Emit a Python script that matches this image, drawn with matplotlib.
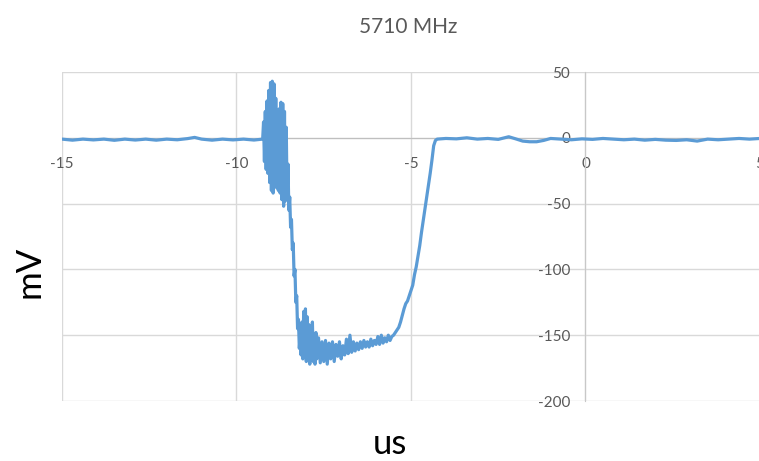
import numpy as np
import matplotlib
matplotlib.use("Agg")
import matplotlib.pyplot as plt

plt.rcParams['font.family'] = ['Lato', 'DejaVu Sans']
plt.rcParams['axes.unicode_minus'] = False

# trace, in segments (time in us, level in mV)
t_pre = [-15.0, -14.7, -14.4, -14.1, -13.8, -13.5, -13.2, -12.9, -12.6, -12.3,
         -12.0, -11.7, -11.4, -11.2, -11.0, -10.7, -10.4, -10.1, -9.8, -9.5, -9.25]
v_pre = [-1.0, -1.8, -1.0, -1.6, -1.0, -1.9, -1.0, -1.7, -1.0, -1.8,
         -1.0, -1.5, -0.6, 0.3, -1.0, -1.8, -1.0, -1.6, -1.0, -1.7, -1.0]

t_burst = [-9.225, -9.2, -9.175, -9.15, -9.125, -9.1, -9.075, -9.05, -9.025, -9.0,
           -8.975, -8.95, -8.925, -8.9, -8.875, -8.85, -8.825, -8.8, -8.775, -8.75,
           -8.725, -8.7, -8.675, -8.65, -8.625, -8.6, -8.575, -8.55, -8.525]
v_burst = [12, -18, 20, -24, 28, -27, 36, -34, 42, -40,
           43, -42, 41, -35, 30, -38, 17, -40, 22, -42,
           27, -47, 26, -52, 20, -48, 8, -45, -20]

t_fall = [-8.5, -8.475, -8.45, -8.425, -8.4, -8.375, -8.35, -8.325, -8.3, -8.275,
          -8.25, -8.225, -8.2]
v_fall = [-55, -45, -68, -62, -85, -80, -105, -100, -125, -120,
          -145, -138, -160]

t_low = [-8.175, -8.15, -8.125, -8.1, -8.075, -8.05, -8.025, -8.0, -7.975, -7.95,
         -7.925, -7.9, -7.875, -7.85, -7.825, -7.8, -7.775, -7.75, -7.725, -7.7,
         -7.65, -7.6, -7.55, -7.5, -7.45, -7.4, -7.35, -7.3, -7.25, -7.2,
         -7.15, -7.1, -7.05, -7.0, -6.95, -6.9, -6.85, -6.8, -6.75, -6.7,
         -6.65, -6.6, -6.55, -6.5, -6.45, -6.4, -6.35, -6.3, -6.25, -6.2,
         -6.15, -6.1, -6.05, -6.0, -5.95, -5.9, -5.85, -5.8, -5.75, -5.7,
         -5.65, -5.6, -5.55, -5.5]
v_low = [-150, -165, -140, -168, -132, -165, -130, -170, -136, -168,
         -142, -172, -148, -166, -140, -170, -150, -172, -148, -168,
         -152, -171, -155, -170, -154, -172, -156, -168, -155, -170,
         -157, -166, -155, -168, -158, -165, -153, -164, -150, -163,
         -155, -162, -156, -161, -155, -160, -154, -159, -155, -159,
         -153, -158, -154, -157, -151, -157, -150, -156, -152, -155,
         -150, -154, -151, -150]

t_rise = [-5.45, -5.4, -5.35, -5.3, -5.25, -5.2, -5.15, -5.1, -5.05, -5.0,
          -4.95, -4.9, -4.85, -4.8, -4.75, -4.7, -4.65, -4.6, -4.55, -4.5,
          -4.45, -4.4, -4.35, -4.3]
v_rise = [-148, -146, -144, -140, -135, -130, -126, -124, -120, -116,
          -112, -104, -98, -90, -82, -72, -63, -54, -45, -36,
          -27, -17, -6, -2]

t_post = [-4.25, -4.0, -3.7, -3.4, -3.1, -2.8, -2.5, -2.2, -2.0, -1.8,
          -1.6, -1.4, -1.2, -1.0, -0.7, -0.4, -0.1, 0.2, 0.5, 0.8,
          1.1, 1.4, 1.7, 2.0, 2.3, 2.6, 2.9, 3.2, 3.5, 3.8,
          4.1, 4.4, 4.7, 5.0]
v_post = [-1.0, -0.5, -0.8, 0.0, -1.0, -0.5, -1.2, 0.8, -0.8, -2.5,
          -3.0, -3.0, -2.0, -0.5, -1.0, -1.5, -0.8, -1.2, -0.5, -1.0,
          -1.5, -1.0, -1.8, -1.2, -1.8, -2.0, -1.5, -2.5, -1.0, -1.5,
          -1.0, -0.5, -1.0, -0.5]

x_ticks = [-15, -10, -5, 0, 5]
y_ticks = [50, 0, -50, -100, -150, -200]

t_us = np.concatenate([t_pre, t_burst, t_fall, t_low, t_rise, t_post])
v_mv = np.concatenate([v_pre, v_burst, v_fall, v_low, v_rise, v_post])

fig = plt.figure(figsize=(7.59, 4.61), dpi=100)
ax = fig.add_axes([62 / 759, 1 - 401 / 461, 698 / 759, 329 / 461])

ax.plot(t_us, v_mv, color="#5b9bd5", lw=2.3, zorder=3)

ax.set_xlim(-15, 5)
ax.set_ylim(-200, 50)
ax.set_xticks(x_ticks)
ax.set_yticks(y_ticks)
ax.grid(True, color="#d9d9d9", lw=1.0, zorder=0)

# Excel style: axes cross at the origin
ax.spines['left'].set_position(('data', 0))
ax.spines['bottom'].set_position(('data', 0))
ax.spines['top'].set_visible(False)
ax.spines['right'].set_visible(False)
ax.spines['left'].set_color("#c8c8c8")
ax.spines['bottom'].set_color("#bfbfbf")
ax.tick_params(axis='both', length=0, colors="#595959", labelsize=11)
ax.tick_params(axis='x', pad=14)
ax.tick_params(axis='y', pad=11)
for lab in ax.get_xticklabels() + ax.get_yticklabels():
    lab.set_clip_on(False)

fig.text(408 / 759, 1 - 27 / 461, "5710 MHz", ha="center", va="center",
         color="#595959", fontsize=15)
fig.text(30 / 759, 1 - 272 / 461, "mV", ha="center", va="center",
         rotation=90, fontsize=25, color="black")
fig.text(390 / 759, 1 - 444 / 461, "us", ha="center", va="center",
         fontsize=25, color="black")

fig.savefig("out.png", dpi=100)
